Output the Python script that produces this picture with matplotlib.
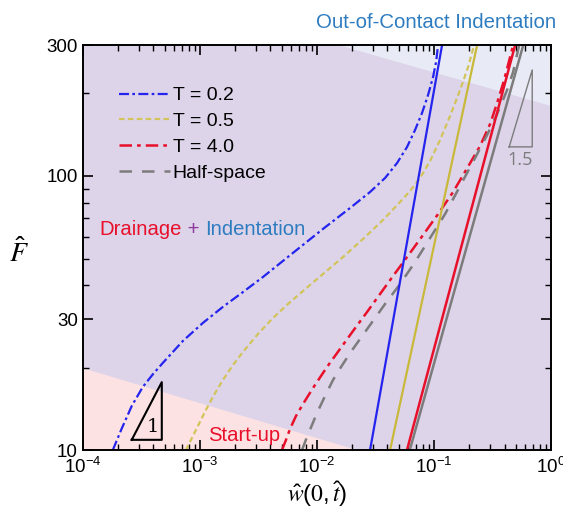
import matplotlib
matplotlib.use("Agg")
import matplotlib.pyplot as plt
from matplotlib.ticker import FixedLocator, NullFormatter, FuncFormatter

plt.rcParams['font.family'] = ['Liberation Sans', 'DejaVu Sans']
plt.rcParams['mathtext.default'] = 'regular'

# ---- data (w, F) ----
# T = 0.2, dash-dot
w_t02 = [1.805e-4, 2.154e-4, 2.623e-4, 3.257e-4, 3.966e-4, 4.829e-4, 7.157e-4, 1.061e-3,
         1.572e-3, 2.331e-3, 3.455e-3, 6.236e-3, 0.01125, 0.01915, 0.02838, 0.03813,
         0.04829, 0.05877, 0.0688, 0.07894, 0.08887, 0.09806, 0.104, 0.1082]
F_t02 = [10, 12.0, 14.5, 17.0, 18.9, 20.8, 25.0, 29.1, 33.3, 37.7, 42.8, 52.4, 64.1, 76.4,
         87.4, 98.3, 111.5, 127.6, 147.2, 169.8, 197.5, 229.8, 260.7, 300]
# T = 0.5, dashed
w_t05 = [7.593e-4, 9.243e-4, 1.125e-3, 1.317e-3, 1.572e-3, 1.915e-3, 2.331e-3, 3.131e-3,
         4.206e-3, 5.651e-3, 7.593e-3, 0.01125, 0.01668, 0.02472, 0.03665, 0.05123,
         0.06236, 0.07593, 0.09243, 0.1125, 0.1370, 0.1668, 0.1953, 0.2197]
F_t05 = [10, 11.83, 14.0, 15.87, 18.01, 20.42, 22.79, 26.51, 30.32, 34.11, 38.05, 43.88,
         50.62, 58.89, 69.1, 80.38, 88.16, 98.33, 113.4, 135.3, 165.6, 206.0, 249.9, 300]
# T = 4.0, dash-dot
w_t40 = [5.022e-3, 5.433e-3, 5.878e-3, 6.615e-3, 7.593e-3, 9.243e-3, 0.01217, 0.01572,
         0.02031, 0.02676, 0.03455, 0.04463, 0.05877, 0.08052, 0.1082, 0.1454, 0.1877,
         0.2472, 0.3010, 0.3455, 0.3965, 0.4733]
F_t40 = [10, 10.88, 11.93, 13.31, 14.72, 16.84, 20.09, 23.37, 27.19, 31.89, 37.1, 43.15,
         50.62, 60.9, 72.66, 87.42, 105.2, 128.7, 154.8, 184.7, 224.0, 300]
# half-space, dashed
w_hs = [7.445e-3, 8.212e-3, 9.064e-3, 0.01, 0.01171, 0.0137, 0.01604, 0.01915, 0.02331,
        0.02838, 0.03813, 0.05123, 0.0688, 0.09243, 0.1242, 0.1668, 0.2241, 0.2838,
        0.3455, 0.4206, 0.4733, 0.5326]
F_hs = [10, 11.16, 12.34, 13.65, 15.74, 18.01, 20.09, 22.59, 25.42, 28.59, 34.11, 40.35,
        48.55, 59.39, 72.66, 91.94, 116.4, 141.1, 168.4, 206.0, 239.7, 300]

# out-of-contact (solid) lines
F_end = [10, 300]
w_oc_t02 = [0.0284, 0.117]
w_oc_t05 = [0.0421, 0.233]
w_oc_t40 = [0.0587, 0.492]
w_oc_hs = [0.0620, 0.577]

# regime boundaries
startup_w = [1e-4, 1e-4, 0.022]
startup_F = [10, 19.9, 10]
ooc_w = [0.0155, 1, 1]
ooc_F = [300, 180, 300]

# slope triangles
tri1_w = [2.62e-4, 4.73e-4, 4.73e-4, 2.62e-4]
tri1_F = [10.9, 10.9, 17.7, 10.9]
tri2_w = [0.438, 0.689, 0.689, 0.438]
tri2_F = [127.7, 127.7, 243.8, 127.7]

blue = '#2424ee'
yellow = '#c9b93a'
yellow_d = '#d2c45a'
red = '#e8102a'
gray = '#7c7c7c'

fig = plt.figure(figsize=(5.63, 5.08), dpi=100)
ax = fig.add_axes([0.147, 0.114, 0.832, 0.797])
ax.set_xscale('log')
ax.set_yscale('log')
ax.set_xlim(1e-4, 1)
ax.set_ylim(10, 300)

ax.set_facecolor('#ddd4ea')
ax.fill(startup_w, startup_F, color='#fde2e4', lw=0, zorder=0)
ax.fill(ooc_w, ooc_F, color='#e8ebf6', lw=0, zorder=0)

ax.plot(w_t02, F_t02, color=blue, lw=1.6, ls=(0, (4.5, 1.5, 1.2, 1.5)), label='T = 0.2')
ax.plot(w_t05, F_t05, color=yellow_d, lw=1.6, ls=(0, (2.5, 1.5)), label='T = 0.5')
ax.plot(w_t40, F_t40, color=red, lw=1.8, ls=(0, (5, 2, 1.5, 2)), label='T = 4.0')
ax.plot(w_hs, F_hs, color=gray, lw=1.8, ls=(0, (5, 4)), label='Half-space')

ax.plot(w_oc_t02, F_end, color=blue, lw=1.6)
ax.plot(w_oc_t05, F_end, color=yellow, lw=1.6)
ax.plot(w_oc_t40, F_end, color=red, lw=1.8)
ax.plot(w_oc_hs, F_end, color=gray, lw=1.8)

ax.plot(tri1_w, tri1_F, color='black', lw=1.5)
ax.plot(tri2_w, tri2_F, color=gray, lw=1.0)
ax.text(3.97e-4, 12.1, '1', fontsize=14, family='serif', ha='center', va='center')
ax.text(0.543, 114, '1.5', fontsize=13, color=gray, ha='center', va='center',
        family=['Open Sans', 'DejaVu Sans'])

# annotations
t1 = ax.text(0.036, 0.546, 'Drainage', transform=ax.transAxes, color=red,
             fontsize=14.6, va='center')
t2 = ax.annotate(' + ', xy=(1, 0), xycoords=t1, va='bottom', color='#8e3b9e', fontsize=14.6)
ax.annotate('Indentation', xy=(1, 0), xycoords=t2, va='bottom', color='#2e7cc0', fontsize=14.6)
ax.text(0.267, 0.037, 'Start-up', transform=ax.transAxes, color=red, fontsize=14.6,
        va='center')
ax.text(1.011, 1.057, 'Out-of-Contact Indentation', transform=ax.transAxes,
        color='#2e7cc0', fontsize=14.7, ha='right', va='center')

leg = ax.legend(loc='upper left', bbox_to_anchor=(0.053, 0.926), borderaxespad=0,
                fontsize=14, handlelength=2.6, handletextpad=0.15, labelspacing=0.42,
                fancybox=False, framealpha=0, edgecolor='black', borderpad=0.6)
leg.get_frame().set_linewidth(1.2)

# axes / ticks
ax.yaxis.set_major_locator(FixedLocator([10, 30, 100, 300]))
ax.yaxis.set_minor_locator(FixedLocator([20, 40, 50, 60, 70, 80, 90, 200]))
ax.yaxis.set_major_formatter(FuncFormatter(lambda v, p: '%d' % v))
ax.yaxis.set_minor_formatter(NullFormatter())
ax.tick_params(which='both', direction='in', top=True, right=True, labelsize=13.5)
ax.tick_params(which='major', length=7, width=1.2)
ax.tick_params(which='minor', length=4, width=1.0)
ax.tick_params(axis='x', pad=5)
for s in ax.spines.values():
    s.set_linewidth(1.4)

ax.set_ylabel(r'$\hat{\mathit{F}}$', fontsize=20, rotation=0, va='center',
              math_fontfamily='stix')
ax.yaxis.set_label_coords(-0.137, 0.486)
ax.set_xlabel(r'$\hat{\mathit{w}}(\mathrm{0},\hat{\mathit{t}})$', fontsize=17, va='center',
              math_fontfamily='stix')
ax.xaxis.set_label_coords(0.5, -0.108)

fig.savefig('out.png', dpi=100)
